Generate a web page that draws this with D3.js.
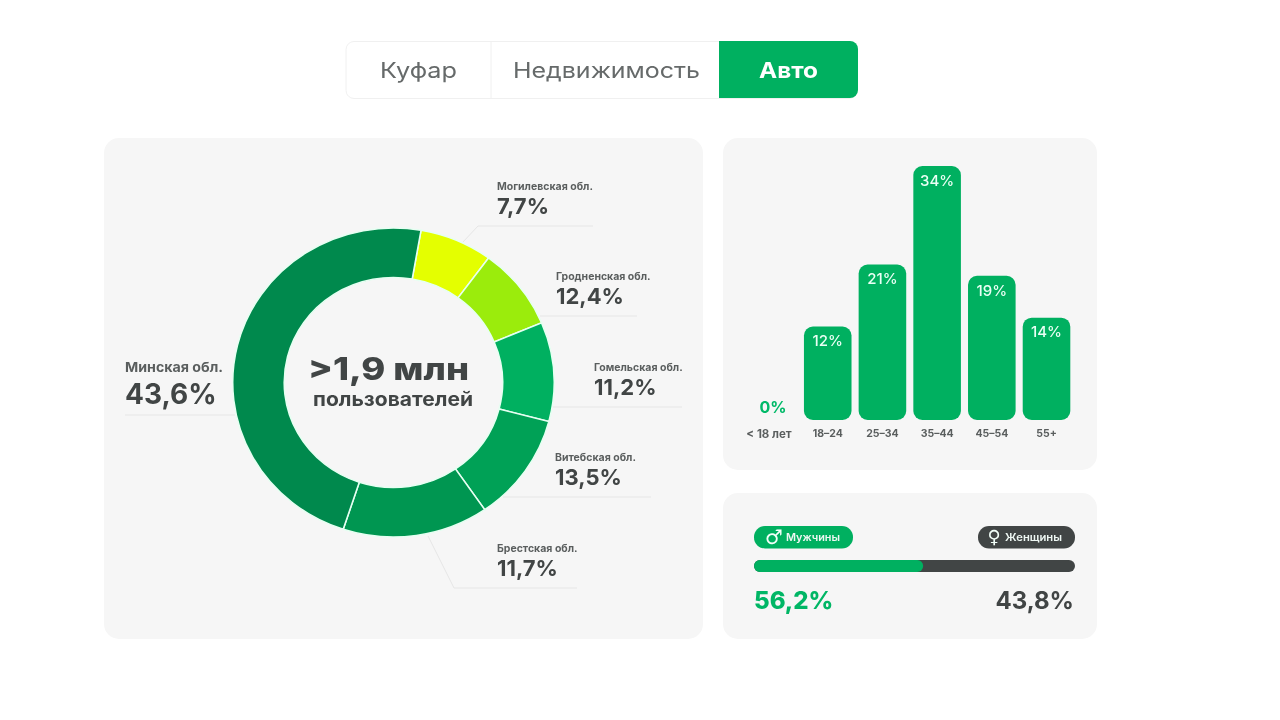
<!DOCTYPE html>
<html lang="ru"><head><meta charset="utf-8">
<script src="https://cdn.jsdelivr.net/npm/d3@7"></script>
<style>
html,body{margin:0;padding:0;background:#fff;overflow:hidden}
svg{display:block;filter:blur(0.4px)}
text{font-family:Inter,"Noto Sans",sans-serif}
</style></head><body>
<svg id="c" width="1280" height="720"></svg>
<script>
// Tabs
const tabNames = ["Куфар", "Недвижимость", "Авто"];
// Donut: labels as printed, slice shares as drawn in the picture (they differ in the source)
const regions = ["Могилевская обл.", "Гродненская обл.", "Гомельская обл.", "Витебская обл.", "Брестская обл.", "Минская обл."];
const regionLabels = ["7,7%", "12,4%", "11,2%", "13,5%", "11,7%", "43,6%"];
const regionDrawnShares = [7.33, 8.61, 10.36, 11.33, 14.67, 47.69];
const regionColors = ["#e4ff00", "#9bec0c", "#00b060", "#00a156", "#009651", "#00894d"];
const centerLines = [">1,9 млн", "пользователей"];
// Age bars
const ageGroups = ["< 18 лет", "18–24", "25–34", "35–44", "45–54", "55+"];
const ageLabels = ["0%", "12%", "21%", "34%", "19%", "14%"];
const ageDrawnHeights = [0, 12.5, 20.8, 34, 19.3, 13.7];
// Gender
const genderNames = ["Мужчины", "Женщины"];
const genderSymbols = ["♂", "♀"];
const genderLabels = ["56,2%", "43,8%"];
const genderDrawnShare = [52.7, 47.3];

const GREEN = "#00b060", DARK = "#414545", GREY = "#5a5e5e", CARD = "#f6f6f6";
const svg = d3.select("#c");
const fit = (sel, w) => sel.attr("textLength", w).attr("lengthAdjust", "spacingAndGlyphs");

// cards
[[104,138,599,501],[723,138,374,332],[723,493,374,146]].forEach(([x,y,w,h]) =>
  svg.append("rect").attr("x",x).attr("y",y).attr("width",w).attr("height",h).attr("rx",15).attr("fill",CARD));

// tabs
const tabs = svg.append("g");
tabs.append("rect").attr("x",346).attr("y",41.5).attr("width",511).attr("height",57).attr("rx",8)
  .attr("fill","#fff").attr("stroke","#f0f0f0");
tabs.append("line").attr("x1",491).attr("x2",491).attr("y1",42).attr("y2",98).attr("stroke","#f0f0f0");
tabs.append("path").attr("d","M719 41H850a8 8 0 0 1 8 8V90a8 8 0 0 1-8 8H719Z").attr("fill",GREEN);
const tabX = [418.5, 606.5, 788.5], tabW = [77, 187, 59];
tabs.selectAll("text").data(tabNames).join("text")
  .attr("x",(d,i)=>tabX[i]).attr("y",70).attr("dy","0.35em").attr("text-anchor","middle")
  .attr("font-size",21.5).attr("font-weight",(d,i)=>i==2?700:400)
  .attr("textLength",(d,i)=>tabW[i]).attr("lengthAdjust","spacingAndGlyphs")
  .attr("fill",(d,i)=>i==2?"#fff":"#666a6a").text(d=>d);

// donut
const donut = svg.append("g").attr("transform","translate(393.4,382.5) scale(1.04,1)");
const start = 9.9*Math.PI/180;
const pie = d3.pie().sort(null).startAngle(start).endAngle(start+2*Math.PI)(regionDrawnShares);
const arc = d3.arc().innerRadius(105).outerRadius(154.5);
donut.selectAll("path").data(pie).join("path").attr("d",arc)
  .attr("fill",(d,i)=>regionColors[i]).attr("stroke","#e6fff2").attr("stroke-width",1.5);

// region callouts
const callouts = [
  {x:497,y:186,line:[[593,226],[478,226],[463,242]]},
  {x:556,y:276,line:[[637,316],[540,316]]},
  {x:594,y:367,line:[[682,407],[553,407]]},
  {x:555,y:457,line:[[651,497],[503,497]]},
  {x:497,y:548,line:[[577,588],[454,588],[428,536]]},
  {x:125,y:367,line:[[125,415],[235,415]],big:true}
];
const cg = svg.append("g");
callouts.forEach((c,i)=>{
  cg.append("path").attr("d",d3.line()(c.line)).attr("fill","none").attr("stroke","#e6e6e6").attr("stroke-width",1);
  const name = cg.append("text").attr("x",c.x).attr("y",c.y).attr("dy","0.35em")
    .attr("font-size",c.big?13.5:10.5).attr("font-weight",700).attr("fill",GREY).text(regions[i]);
  if (c.big) fit(name, 98);
  cg.append("text").attr("x",c.x).attr("y",c.big?394:c.y+20).attr("dy","0.35em")
    .attr("font-size",c.big?28:22).attr("font-weight",700).attr("fill",DARK).text(regionLabels[i]);
});

// centre
fit(svg.append("text").attr("x",388.5).attr("y",369.5).attr("dy","0.35em").attr("text-anchor","middle")
  .attr("font-size",31).attr("font-weight",800).attr("fill",DARK).text(centerLines[0]), 161);
fit(svg.append("text").attr("x",393).attr("y",399.5).attr("dy","0.35em").attr("text-anchor","middle")
  .attr("font-size",19).attr("font-weight",700).attr("fill",DARK).text(centerLines[1]), 160);

// age bars
const x = d3.scaleBand().domain(ageGroups).range([749.25,1070.3]).paddingInner(0.13).paddingOuter(0);
const y = d3.scaleLinear().domain([0,34]).range([420,166]);
const bars = svg.append("g");
bars.selectAll("path").data(ageGroups.slice(1)).join("path")
  .attr("d",g=>{
    const v = ageDrawnHeights[ageGroups.indexOf(g)], x0=x(g), w=x.bandwidth(), t=y(v), b=y(0), r=9;
    return `M${x0} ${t+r}a${r} ${r} 0 0 1 ${r} ${-r}h${w-2*r}a${r} ${r} 0 0 1 ${r} ${r}V${b-r}a${r} ${r} 0 0 1 ${-r} ${r}h${-(w-2*r)}a${r} ${r} 0 0 1 ${-r} ${-r}Z`;
  }).attr("fill",GREEN);
bars.selectAll("text").data(ageGroups).join("text")
  .attr("x",g=>x(g)+x.bandwidth()/2)
  .attr("y",(g,i)=>i==0?407:y(ageDrawnHeights[i])+14.5)
  .attr("dy","0.35em").attr("text-anchor","middle")
  .attr("font-size",(g,i)=>i==0?16:15).attr("font-weight",(g,i)=>i==0?700:500)
  .attr("fill",(g,i)=>i==0?"#00b968":"#eafff5").text((g,i)=>ageLabels[i]);
const axis = svg.append("g").attr("transform","translate(0,420)")
  .call(d3.axisBottom(x).tickSize(0).tickPadding(10));
axis.select(".domain").remove();
axis.selectAll("text").attr("font-family","Inter").attr("font-size",10.5).attr("font-weight",700).attr("fill",GREY);
axis.selectAll("text").filter(d=>d===ageGroups[0]).attr("dx",-4).attr("font-size",11.5);

// gender
const gx = d3.scaleLinear().domain([0,100]).range([754,1075]);
svg.append("rect").attr("x",gx(0)).attr("y",560).attr("width",gx(100)-gx(0)).attr("height",12).attr("rx",6).attr("fill",DARK);
svg.append("rect").attr("x",gx(0)).attr("y",560).attr("width",gx(genderDrawnShare[0])-gx(0)).attr("height",12).attr("rx",6).attr("fill",GREEN);
const pills = [{x:754,w:99,fill:GREEN,sx:774,tx:813,fs:20,tw:54},{x:978,w:97,fill:DARK,sx:994,tx:1033.5,fs:18,tw:57}];
pills.forEach((p,i)=>{
  svg.append("rect").attr("x",p.x).attr("y",526).attr("width",p.w).attr("height",22.5).attr("rx",11).attr("fill",p.fill);
  svg.append("text").attr("x",p.sx).attr("y",537).attr("dy","0.35em").attr("text-anchor","middle")
    .style("font-family","DejaVu Sans").attr("font-size",p.fs).attr("fill","#f2fff9").text(genderSymbols[i]);
  fit(svg.append("text").attr("x",p.tx).attr("y",537.5).attr("dy","0.35em").attr("text-anchor","middle")
    .attr("font-size",10).attr("font-weight",600).attr("fill","#eef7f3").text(genderNames[i]), p.tw);
});
svg.append("text").attr("x",754).attr("y",601).attr("dy","0.35em").attr("font-size",24).attr("font-weight",800).attr("fill","#00b665").text(genderLabels[0]);
svg.append("text").attr("x",1074).attr("y",601).attr("dy","0.35em").attr("text-anchor","end").attr("font-size",24).attr("font-weight",700).attr("fill",DARK).text(genderLabels[1]);
</script>
</body></html>
